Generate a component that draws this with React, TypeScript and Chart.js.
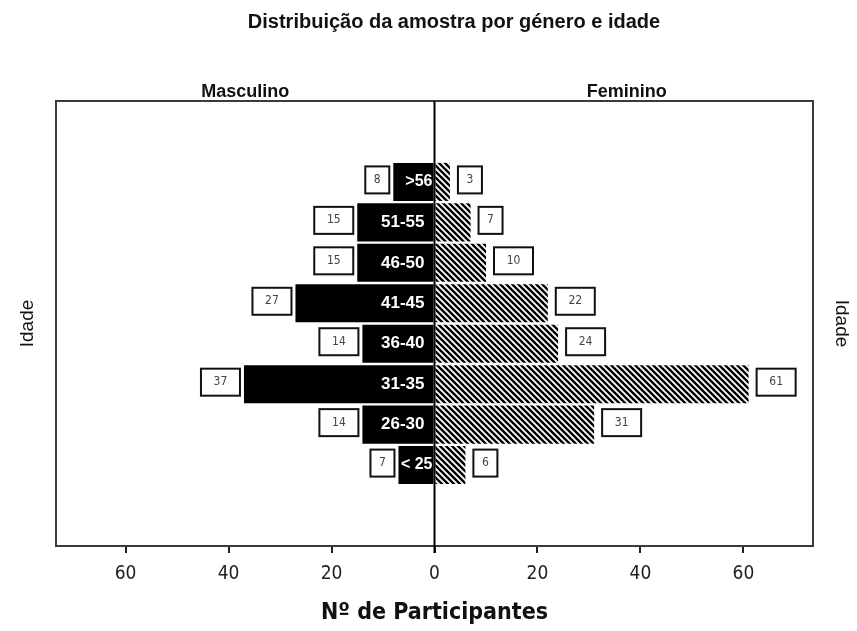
import React, { useEffect, useRef } from 'react';
import { Chart, registerables } from 'chart.js';

Chart.register(...registerables);

const chartTitle = 'Distribuição da amostra por género e idade';
const genderLabels = ['Masculino', 'Feminino'];
const ageGroups = ['>56', '51-55', '46-50', '41-45', '36-40', '31-35', '26-30', '< 25'];
const maleCounts = [8, 15, 15, 27, 14, 37, 14, 7];
const femaleCounts = [3, 7, 10, 22, 24, 61, 31, 6];
const xTickValues = [-60, -40, -20, 0, 20, 40, 60];
const xLimit = 73.5;
const xAxisTitle = 'Nº de Participantes';
const yAxisTitle = 'Idade';
const padSlots = 2;

const NARROW = '"DejaVu Sans Condensed", "Liberation Sans Narrow", "Arial Narrow", "Liberation Sans", Arial, sans-serif';
const SANS = '"Liberation Sans", Arial, sans-serif';

function makeHatch(): CanvasPattern | string {
  const c = document.createElement('canvas');
  const s = 6;
  c.width = s;
  c.height = s;
  const g = c.getContext('2d');
  if (!g) return '#555';
  g.fillStyle = '#fff';
  g.fillRect(0, 0, s, s);
  g.strokeStyle = '#000';
  g.lineWidth = 2.4;
  g.beginPath();
  for (let k = -1; k <= 1; k++) {
    g.moveTo(k * s - 1, -1);
    g.lineTo(k * s + s + 1, s + 1);
  }
  g.stroke();
  const p = g.createPattern(c, 'repeat');
  return p || '#555';
}

function drawBox(ctx: CanvasRenderingContext2D, text: string, edgeX: number, cy: number, side: 'left' | 'right') {
  const w = text.length > 1 ? 39 : 24;
  const h = 27;
  const x0 = side === 'left' ? edgeX - w : edgeX;
  ctx.fillStyle = '#fff';
  ctx.fillRect(x0, cy - h / 2, w, h);
  ctx.strokeStyle = '#111';
  ctx.lineWidth = 2;
  ctx.strokeRect(x0, cy - h / 2, w, h);
  ctx.fillStyle = '#444';
  ctx.font = '12px ' + NARROW;
  ctx.textAlign = 'center';
  ctx.textBaseline = 'middle';
  ctx.fillText(text, x0 + w / 2, cy);
}

const overlayPlugin = {
  id: 'overlayPlugin',
  afterDatasetsDraw(chart: any) {
    const { ctx, chartArea: a, scales } = chart;
    const x = scales.x;
    const zx = x.getPixelForValue(0);
    ctx.save();
    // frame
    ctx.strokeStyle = '#3a3a3a';
    ctx.lineWidth = 2;
    ctx.strokeRect(a.left, a.top, a.right - a.left, a.bottom - a.top);
    // zero line
    ctx.strokeStyle = '#000';
    ctx.beginPath();
    ctx.moveTo(zx, a.top);
    ctx.lineTo(zx, a.bottom + 7);
    ctx.stroke();

    const mMeta = chart.getDatasetMeta(0);
    const fMeta = chart.getDatasetMeta(1);
    ageGroups.forEach((g, i) => {
      const idx = i + padSlots;
      const mb = mMeta.data[idx];
      const fb = fMeta.data[idx];
      if (!mb || !fb) return;
      const short = g.replace(/\s/g, '').length <= 3;
      ctx.fillStyle = '#fff';
      ctx.font = (short ? 'bold 16px ' : 'bold 17px ') + SANS;
      ctx.textAlign = 'right';
      ctx.textBaseline = 'middle';
      ctx.fillText(g, zx - (short ? 2 : 10), mb.y);
      drawBox(ctx, String(maleCounts[i]), mb.x - 4, mb.y - 2, 'left');
      drawBox(ctx, String(femaleCounts[i]), fb.x + 8, fb.y - 2, 'right');
    });

    // title
    ctx.fillStyle = '#111';
    ctx.font = 'bold 20px ' + SANS;
    ctx.textAlign = 'center';
    ctx.textBaseline = 'alphabetic';
    ctx.fillText(chartTitle, 454, 28);

    // gender headers
    ctx.font = 'bold 18px ' + SANS;
    ctx.fillText(genderLabels[0], (a.left + zx) / 2, 97);
    ctx.fillText(genderLabels[1], (zx + a.right) / 2 + 3, 97);
    ctx.restore();
  },
};

export default function App() {
  const ref = useRef<HTMLCanvasElement | null>(null);
  useEffect(() => {
    document.body.style.margin = '0';
    const canvas = ref.current;
    if (!canvas) return;
    const pad = Array.from({ length: padSlots }, () => null);
    const labels = [
      ...Array.from({ length: padSlots }, (_, i) => ' '.repeat(i + 1)),
      ...ageGroups,
      ...Array.from({ length: padSlots }, (_, i) => '  '.repeat(i + 3)),
    ];
    const hatch = makeHatch();
    const chart = new Chart(canvas, {
      type: 'bar',
      data: {
        labels,
        datasets: [
          {
            label: genderLabels[0],
            data: [...pad, ...maleCounts.map((v) => -v), ...pad],
            backgroundColor: '#000',
            borderWidth: 0,
            barPercentage: 0.94,
            categoryPercentage: 1,
          },
          {
            label: genderLabels[1],
            data: [...pad, ...femaleCounts, ...pad],
            backgroundColor: hatch as any,
            borderWidth: 0,
            barPercentage: 0.94,
            categoryPercentage: 1,
          },
        ],
      },
      options: {
        indexAxis: 'y',
        responsive: false,
        animation: false,
        layout: { padding: { top: 101, left: 0, right: 0, bottom: 0 } },
        plugins: {
          legend: { display: false },
          title: { display: false },
          tooltip: { enabled: false },
        },
        scales: {
          x: {
            type: 'linear',
            position: 'bottom',
            stacked: true,
            min: -xLimit,
            max: xLimit,
            afterBuildTicks: (s: any) => {
              s.ticks = xTickValues.map((v) => ({ value: v }));
            },
            afterFit: (s: any) => {
              s.height = 85;
            },
            ticks: {
              callback: (v: any) => String(Math.abs(Number(v))),
              color: '#222',
              font: { size: 19, family: NARROW },
              padding: 10,
              maxRotation: 0,
            },
            grid: {
              display: true,
              drawOnChartArea: false,
              drawTicks: true,
              tickLength: 7,
              color: '#222',
              lineWidth: 2,
            },
            border: { display: false },
            title: {
              display: true,
              text: xAxisTitle,
              color: '#111',
              font: { size: 23, weight: 'bold', family: NARROW },
              padding: { top: 0, bottom: 4 },
            },
          },
          y: {
            type: 'category',
            position: 'left',
            stacked: true,
            offset: false,
            afterFit: (s: any) => {
              s.width = 56;
            },
            ticks: { display: false },
            grid: { display: false },
            border: { display: false },
            title: {
              display: true,
              text: yAxisTitle,
              color: '#111',
              font: { size: 19, family: SANS },
              padding: { top: 16, bottom: 0 },
            },
          },
          y2: {
            type: 'category',
            position: 'right',
            offset: false,
            afterFit: (s: any) => {
              s.width = 44;
            },
            ticks: { display: false },
            grid: { display: false },
            border: { display: false },
            title: {
              display: true,
              text: yAxisTitle,
              color: '#111',
              font: { size: 19, family: SANS },
              padding: { top: 4, bottom: 0 },
            },
          },
        },
      },
      plugins: [overlayPlugin],
    } as any);
    return () => chart.destroy();
  }, []);
  return (
    <div style={{ width: 857, height: 631, background: '#fff' }}>
      <canvas ref={ref} width={857} height={631} style={{ display: 'block' }} />
    </div>
  );
}
